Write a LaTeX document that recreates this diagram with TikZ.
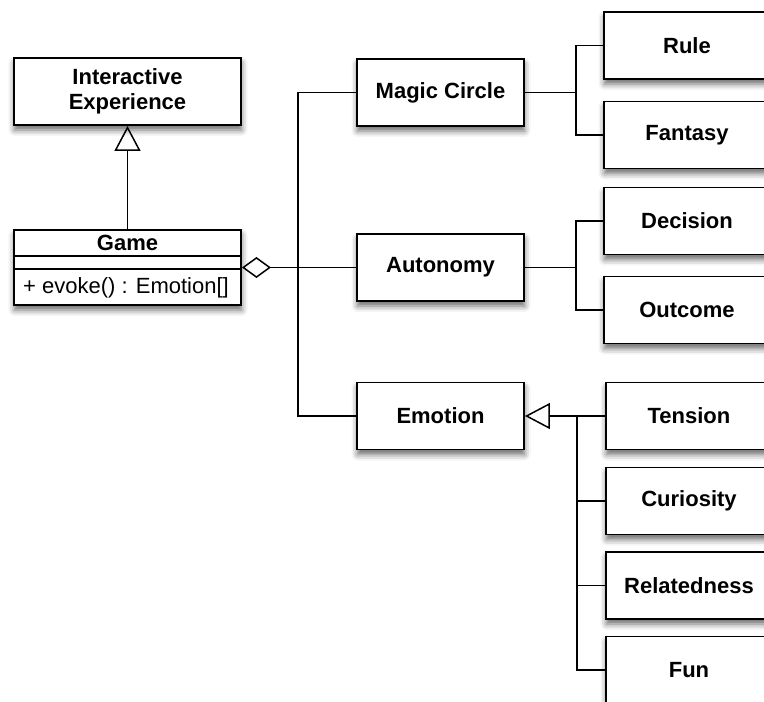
\documentclass[tikz,border=0pt]{standalone}
\usepackage{fontspec}
\setmainfont{Liberation Sans}
\usetikzlibrary{arrows.meta,shadows.blur}

\tikzset{
  box/.style={draw, line width=1.9pt, fill=white, minimum width=167pt, minimum height=67pt,
    inner sep=0pt, align=center, font=\fontsize{22}{25}\selectfont\bfseries,
    blur shadow={shadow xshift=0.5pt, shadow yshift=-5pt, shadow blur radius=6pt, shadow opacity=60}},
  leafbox/.style={box, minimum width=166pt},
  link/.style={draw, line width=1.5pt},
  inherit/.style={link, -{Triangle[open, length=25pt, width=26pt, line width=1.5pt]}},
  aggregate/.style={link, {Diamond[open, length=29pt, width=21pt, line width=1.5pt]}-},
}

\begin{document}
\begin{tikzpicture}[x=1pt, y=-1pt]
  \useasboundingbox (0,0) rectangle (764,702);
  \clip (0,0) rectangle (764,702);

  % class hierarchy on the left
  \node[box, minimum width=227pt] (ie) at (127.5,91.5) {Interactive\\Experience};
  \node[box, minimum width=227pt, minimum height=75pt] (game) at (127.5,267.5) {};
  \draw[line width=1.5pt] (game.west |- 0,256) -- (game.east |- 0,256);
  \draw[line width=1.5pt] (game.west |- 0,269) -- (game.east |- 0,269);
  \node[font=\fontsize{22}{25}\selectfont\bfseries] (gametitle) at (127.5,243) {Game};
  \node[anchor=west, inner sep=0pt, font=\fontsize{22}{25}\selectfont] (gameop) at (23,287.5) {+ evoke() : Emotion[]};

  % components
  \node[box] (mc)  at (440.5,92.5)  {Magic Circle};
  \node[box] (aut) at (440.5,267.5) {Autonomy};
  \node[box] (emo) at (440.5,416)   {Emotion};

  % leaves
  \node[leafbox] (rule) at (687,45.5) {Rule};
  \node[leafbox] (fan)  at (687,135)  {Fantasy};
  \node[leafbox] (dec)  at (687,221)  {Decision};
  \node[leafbox] (out)  at (687,310)  {Outcome};
  \node[leafbox] (ten)  at (689,416)  {Tension};
  \node[leafbox] (cur)  at (689,501)  {Curiosity};
  \node[leafbox] (rel)  at (689,585.5){Relatedness};
  \node[leafbox] (fun)  at (689,670)  {Fun};

  % junction points
  \coordinate (bus) at (298,267.5);
  \coordinate (mcj) at (576,92.5);
  \coordinate (autj) at (576,267.5);
  \coordinate (emoj) at (577,416);

  % generalization Game -> Interactive Experience
  \draw[inherit] (game.north) -- (ie.south);

  % aggregation Game <>- components
  \draw[aggregate] (game.east |- aut.west) -- (aut.west);
  \draw[link] (mc.west) -| (bus) |- (emo.west);

  % Magic Circle branches
  \draw[link] (mc.east) -- (mcj);
  \draw[link] (rule.west) -| (mcj) |- (fan.west);

  % Autonomy branches
  \draw[link] (aut.east) -- (autj);
  \draw[link] (dec.west) -| (autj) |- (out.west);

  % Emotion specializations
  \draw[inherit] (ten.west) -- (emo.east);
  \draw[link] (emoj) |- (cur.west);
  \draw[link] (emoj) |- (rel.west);
  \draw[link] (emoj) |- (fun.west);
\end{tikzpicture}
\end{document}
